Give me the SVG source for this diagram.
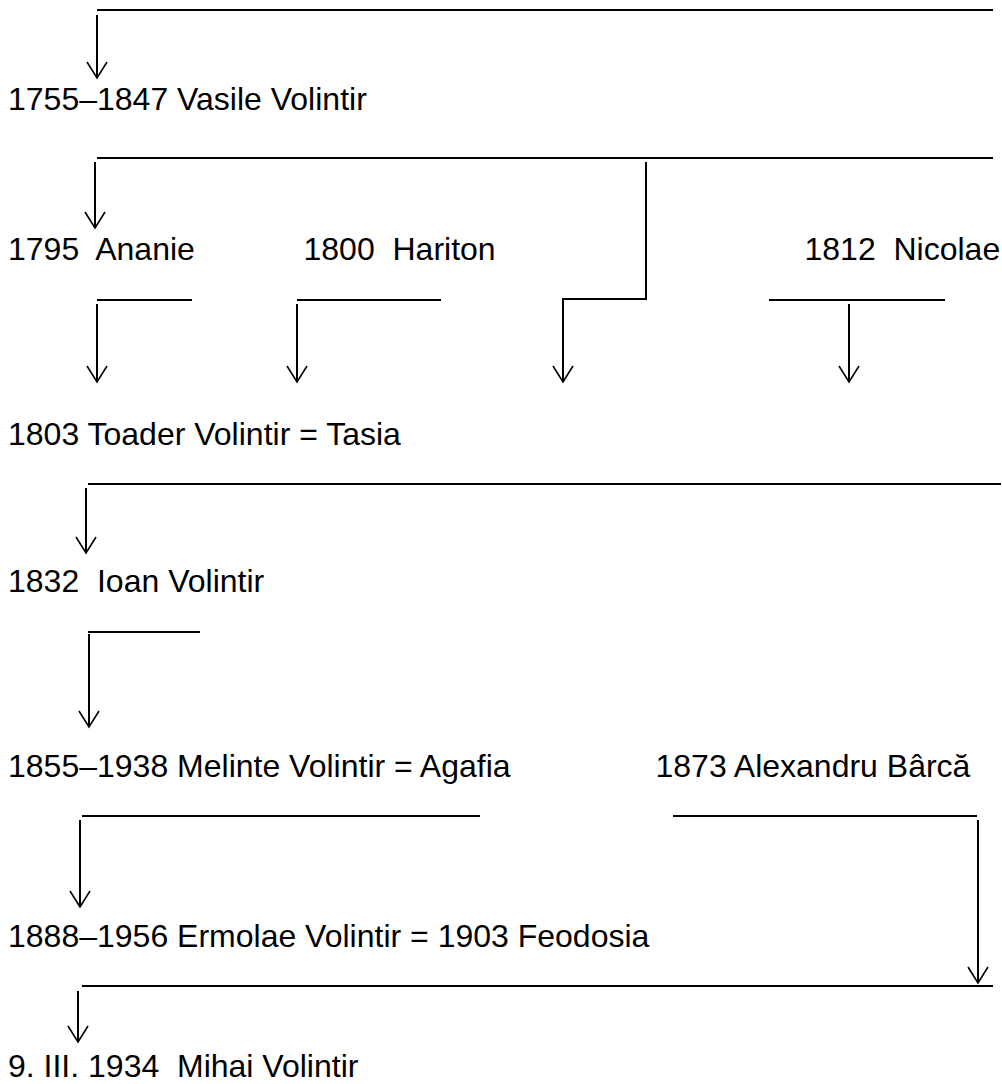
<svg xmlns="http://www.w3.org/2000/svg" width="1002" height="1084" viewBox="0 0 1002 1084">
<style>
  text { font-family: "Liberation Sans", Arial, sans-serif; font-size: 32px; fill: #000; white-space: pre; }
  .c { fill: none; stroke: #000; stroke-width: 2; }
</style>
<defs>
  <marker id="arr" viewBox="0 0 20 22" markerWidth="20" markerHeight="22" markerUnits="userSpaceOnUse" orient="auto" refX="17" refY="11">
    <path d="M1,1 L17,11 L1,21" fill="none" stroke="#000" stroke-width="1.6"/>
  </marker>
</defs>
<rect width="1002" height="1084" fill="#fff"/>

<g id="connectors">
  <line class="c" x1="97" y1="10" x2="993" y2="10"/>
  <line class="c" x1="97" y1="15" x2="97" y2="78" marker-end="url(#arr)"/>
  <line class="c" x1="97" y1="158" x2="993" y2="158"/>
  <line class="c" x1="95" y1="162" x2="95" y2="228" marker-end="url(#arr)"/>
  <polyline class="c" points="646,162 646,299 563,299 563,382" marker-end="url(#arr)"/>
  <line class="c" x1="97" y1="300" x2="192" y2="300"/>
  <line class="c" x1="97" y1="304" x2="97" y2="382" marker-end="url(#arr)"/>
  <line class="c" x1="297" y1="300" x2="441" y2="300"/>
  <line class="c" x1="297" y1="304" x2="297" y2="382" marker-end="url(#arr)"/>
  <line class="c" x1="769" y1="300" x2="945" y2="300"/>
  <line class="c" x1="849" y1="304" x2="849" y2="382" marker-end="url(#arr)"/>
  <line class="c" x1="88" y1="484" x2="1001" y2="484"/>
  <line class="c" x1="86" y1="488" x2="86" y2="553" marker-end="url(#arr)"/>
  <line class="c" x1="88" y1="632" x2="200" y2="632"/>
  <line class="c" x1="89" y1="634" x2="89" y2="727" marker-end="url(#arr)"/>
  <line class="c" x1="82" y1="816" x2="480" y2="816"/>
  <line class="c" x1="80" y1="820" x2="80" y2="907" marker-end="url(#arr)"/>
  <line class="c" x1="673" y1="816" x2="977" y2="816"/>
  <line class="c" x1="978" y1="820" x2="978" y2="983" marker-end="url(#arr)"/>
  <line class="c" x1="82" y1="986" x2="993" y2="986"/>
  <line class="c" x1="78" y1="991" x2="78" y2="1042" marker-end="url(#arr)"/>
</g>

<g id="n-vasile"><text x="8" y="110">1755–1847 Vasile Volintir</text></g>
<g id="n-ananie"><text x="8" y="260">1795  Ananie</text></g>
<g id="n-hariton"><text x="303.5" y="260">1800  Hariton</text></g>
<g id="n-nicolae"><text x="804.5" y="260">1812  Nicolae</text></g>
<g id="n-toader"><text x="8" y="445">1803 Toader Volintir = Tasia</text></g>
<g id="n-ioan"><text x="8" y="592">1832  Ioan Volintir</text></g>
<g id="n-melinte"><text x="8" y="777">1855–1938 Melinte Volintir = Agafia</text></g>
<g id="n-alexandru"><text x="655.5" y="777">1873 Alexandru Bârcă</text></g>
<g id="n-ermolae"><text x="8" y="947">1888–1956 Ermolae Volintir = 1903 Feodosia</text></g>
<g id="n-mihai"><text x="8" y="1077">9. III. 1934  Mihai Volintir</text></g>
</svg>
